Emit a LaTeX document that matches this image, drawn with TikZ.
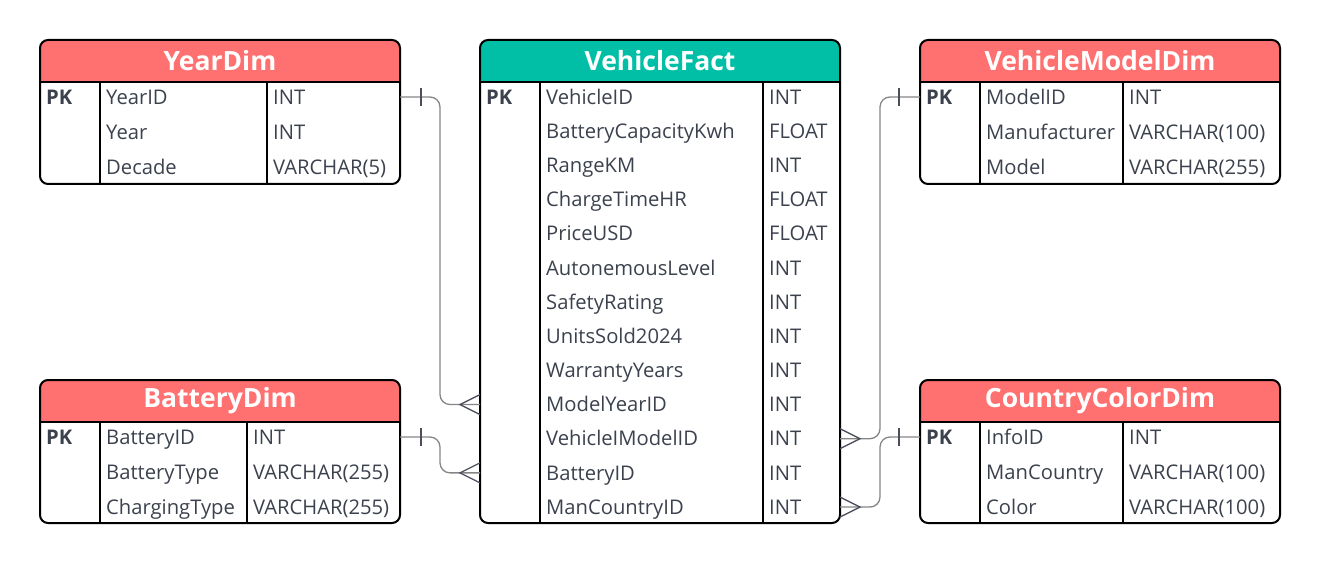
\documentclass[tikz,border=0pt]{standalone}
\usepackage{fontspec}
\setmainfont{Open Sans}
\definecolor{hdrred}{HTML}{FF7070}
\definecolor{hdrteal}{HTML}{00BFA6}
\definecolor{txt}{HTML}{3B414D}
\definecolor{connc}{HTML}{858585}
\definecolor{markc}{HTML}{4A4F5A}
\tikzset{
  tbl/.style={line width=2pt, draw=black},
  ttl/.style={font=\bfseries\fontsize{26.5}{30}\selectfont, text=white, inner sep=0pt},
  fld/.style={font=\fontsize{20.2}{24}\selectfont, text=txt, inner sep=0pt, anchor=base west},
  pkc/.style={font=\bfseries\fontsize{20.2}{24}\selectfont, text=txt, inner sep=0pt, anchor=base west},
  conn/.style={draw=connc, line width=1.3pt, rounded corners=10pt},
  mk/.style={draw=markc, line width=1.3pt},
}
\def\rowpitch{35}
% #1 name, #2 x0, #3 y0, #4 c1, #5 c2, #6 bottom, #7 colour, #8 title, #9 rows
\newcommand{\ertable}[9]{%
  \path[fill=#7] (#2,#3+42) {[rounded corners=8pt] -- (#2,#3) -- (#2+360,#3)} -- (#2+360,#3+42) -- cycle;
  \draw[tbl, rounded corners=8pt] (#2,#3) rectangle (#2+360,#6);
  \draw[tbl] (#2,#3+42) -- (#2+360,#3+42);
  \draw[tbl] (#4,#3+42) -- (#4,#6);
  \draw[tbl] (#5,#3+42) -- (#5,#6);
  \node[ttl] (#1-title) at (#2+180,#3+21) {#8};
  \foreach \pk/\fname/\ftype [count=\i] in {#9} {
    \pgfmathsetmacro\yy{#3+57+\rowpitch*(\i-1)}
    \node[pkc] (#1-pk\i) at (#2+6,\yy+7.2) {\pk};
    \node[fld] (#1-n\i) at (#4+6,\yy+7.2) {\fname};
    \node[fld] (#1-t\i) at (#5+6,\yy+7.2) {\ftype};
    \coordinate (#1-l\i) at (#2,\yy);
    \coordinate (#1-r\i) at (#2+360,\yy);
  }
}
\begin{document}
\begin{tikzpicture}[x=1pt,y=-1pt]
\useasboundingbox (0,0) rectangle (1320,564);
\ertable{yd}{40}{40}{100}{267}{184}{hdrred}{YearDim}{PK/YearID/INT, /Year/INT, /Decade/VARCHAR(5)}
\def\rowpitch{34.17}
\ertable{vf}{480}{40}{540}{763}{523}{hdrteal}{VehicleFact}{PK/VehicleID/INT, /BatteryCapacityKwh/FLOAT, /RangeKM/INT, /ChargeTimeHR/FLOAT, /PriceUSD/FLOAT, /AutonemousLevel/INT, /SafetyRating/INT, /UnitsSold2024/INT, /WarrantyYears/INT, /ModelYearID/INT, /VehicleIModelID/INT, /BatteryID/INT, /ManCountryID/INT}
\def\rowpitch{35}
\ertable{vm}{920}{40}{980}{1123}{184}{hdrred}{VehicleModelDim}{PK/ModelID/INT, /Manufacturer/VARCHAR(100), /Model/VARCHAR(255)}
\ertable{bd}{40}{380}{100}{247}{523}{hdrred}{BatteryDim}{PK/BatteryID/INT, /BatteryType/VARCHAR(255), /ChargingType/VARCHAR(255)}
\ertable{cc}{920}{380}{980}{1123}{523}{hdrred}{CountryColorDim}{PK/InfoID/INT, /ManCountry/VARCHAR(100), /Color/VARCHAR(100)}
% connectors
\draw[conn] (yd-r1) -- ++(40,0) |- (vf-l10);
\draw[conn] (bd-r1) -- ++(40,0) |- (vf-l12);
\draw[conn] (vm-l1) -- ++(-40,0) |- (vf-r11);
\draw[conn] (cc-l1) -- ++(-40,0) |- (vf-r13);
% one marks
\draw[mk] ([shift={(21,-9)}]yd-r1) -- ++(0,18);
\draw[mk] ([shift={(21,-9)}]bd-r1) -- ++(0,18);
\draw[mk] ([shift={(-21,-9)}]vm-l1) -- ++(0,18);
\draw[mk] ([shift={(-21,-9)}]cc-l1) -- ++(0,18);
% many marks
\draw[mk] ([shift={(0,-10)}]vf-l10) -- ([shift={(-20,0)}]vf-l10) -- ([shift={(0,10)}]vf-l10);
\draw[mk] ([shift={(0,-10)}]vf-l12) -- ([shift={(-20,0)}]vf-l12) -- ([shift={(0,10)}]vf-l12);
\draw[mk] ([shift={(0,-10)}]vf-r11) -- ([shift={(20,0)}]vf-r11) -- ([shift={(0,10)}]vf-r11);
\draw[mk] ([shift={(0,-10)}]vf-r13) -- ([shift={(20,0)}]vf-r13) -- ([shift={(0,10)}]vf-r13);
\end{tikzpicture}
\end{document}
